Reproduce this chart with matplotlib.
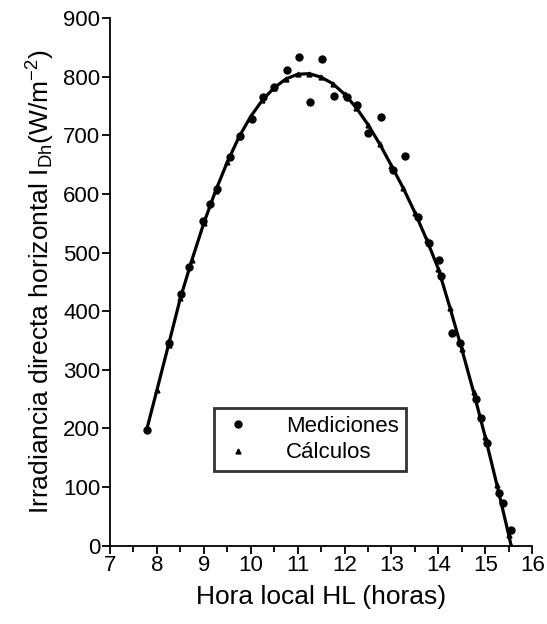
import numpy as np
import matplotlib.pyplot as plt
from matplotlib.ticker import MultipleLocator

plt.rcParams['font.family'] = ['Liberation Sans', 'DejaVu Sans']
plt.rcParams['mathtext.fontset'] = 'custom'
plt.rcParams['mathtext.rm'] = 'Liberation Sans'
plt.rcParams['mathtext.it'] = 'Liberation Sans'

# measured irradiance (hour, W/m2)
horaMed = [7.78, 8.26, 8.52, 8.69, 8.99, 9.13, 9.28, 9.55, 9.77, 10.02, 10.27, 10.50,
           10.78, 11.03, 11.27, 11.53, 11.78, 12.05, 12.26, 12.51, 12.78, 13.04, 13.29,
           13.56, 13.79, 14.02, 14.05, 14.29, 14.47, 14.81, 14.91, 15.04, 15.29, 15.38, 15.55]
irrMed = [197, 345, 429, 476, 553, 583, 608, 663, 698, 727, 766, 782,
          811, 833, 757, 830, 767, 766, 752, 704, 731, 641, 665,
          561, 517, 487, 460, 362, 345, 250, 218, 175, 90, 72, 26]

# calculated irradiance
horaCalc = [7.78, 8.0, 8.25, 8.5, 8.75, 9.0, 9.25, 9.5, 9.75, 10.0, 10.25, 10.5, 10.75,
            11.0, 11.25, 11.5, 11.75, 12.0, 12.25, 12.5, 12.75, 13.0, 13.25, 13.5, 13.75,
            14.0, 14.25, 14.5, 14.75, 15.0, 15.25, 15.5, 15.55]
irrCalc = [197, 265, 343, 422, 488, 550, 605, 654, 697, 732, 760, 781, 796,
           804, 805, 799, 788, 770, 747, 718, 685, 648, 610, 568, 522,
           472, 405, 335, 262, 185, 103, 18, 0]

fig = plt.figure(figsize=(5.47, 6.24), dpi=100)
ax = fig.add_axes([0.201, 0.1255, 0.772, 0.8457])

ax.plot(horaCalc, irrCalc, color='black', lw=2.3, zorder=2)
ax.plot(horaMed, irrMed, 'o', color='black', ms=5, ls='none', label='Mediciones', zorder=3)
ax.plot(horaCalc, irrCalc, '^', color='black', ms=3.5, ls='none', label='Cálculos', zorder=3)

ax.set_xlim(7, 16)
ax.set_ylim(0, 900)
ax.xaxis.set_major_locator(MultipleLocator(1))
ax.xaxis.set_minor_locator(MultipleLocator(0.5))
ax.yaxis.set_major_locator(MultipleLocator(100))

for side in ['top', 'right']:
    ax.spines[side].set_visible(False)
for side in ['left', 'bottom']:
    ax.spines[side].set_linewidth(1.3)
    ax.spines[side].set_clip_on(False)

ax.tick_params(axis='both', which='major', direction='out', length=6, width=1.3,
               labelsize=16, pad=1, colors='black')
ax.tick_params(axis='x', which='minor', direction='out', length=4.5, width=1.3)

ax.set_xlabel('Hora local HL (horas)', fontsize=19, labelpad=6)
ax.set_ylabel(r'Irradiancia directa horizontal I$_{\rm Dh}$(W/m$^{-2}$)', fontsize=19, labelpad=4)

leg = ax.legend(loc='center', bbox_to_anchor=(0.474, 0.201), fontsize=16, frameon=True,
                fancybox=False, edgecolor='black', handletextpad=1.4, borderpad=0.35,
                labelspacing=0.25, handlelength=1.5, borderaxespad=0)
leg.get_frame().set_linewidth(2)

fig.savefig('out.png', dpi=100)
